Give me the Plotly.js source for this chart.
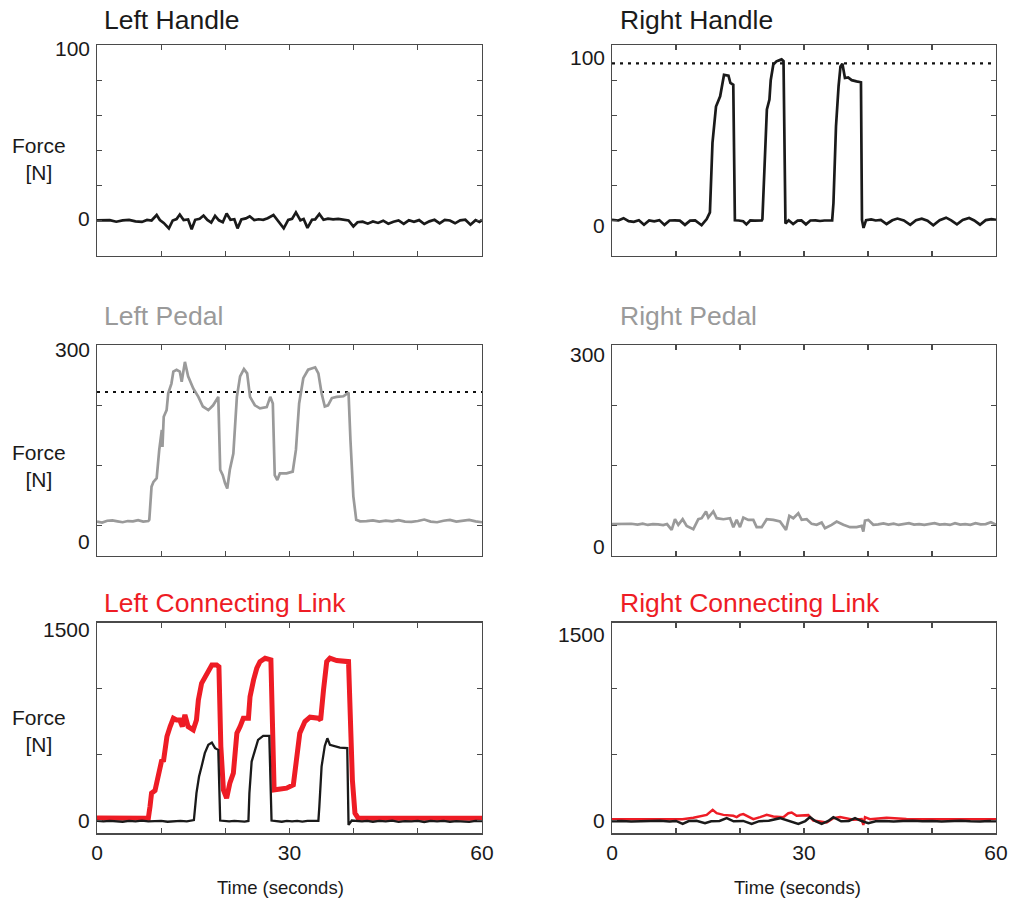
<!DOCTYPE html>
<html>
<head>
<meta charset="utf-8">
<script src="https://cdn.plot.ly/plotly-3.0.1.min.js"></script>
<style>
  html, body { margin: 0; padding: 0; background: #ffffff; }
  #chart { width: 1014px; height: 899px; }
</style>
</head>
<body>
<div id="chart"></div>
<script>
// ---- Force recordings (time in seconds, force in newtons) ----

// Left handle
const leftHandleT = [0,1,2,3,4,5,6,7,7.8,8.5,9.3,9.8,10.4,11.2,11.8,12.4,12.9,13.5,14.2,14.75,15.3,16.0,16.6,17.2,17.8,18.4,19.0,19.6,20.2,20.8,21.4,21.9,22.5,23.2,23.8,24.5,25.2,25.9,26.6,27.5,28.2,29.1,29.8,30.4,31.0,31.7,32.2,32.8,33.5,34.0,34.65,35.3,36,36.8,37.6,38.4,39.2,39.95,40.6,41.4,42.2,43,43.8,44.6,45.4,46.2,47,47.8,48.6,49.4,50.2,51,51.8,52.6,53.4,54.2,55,55.8,56.6,57.4,58.2,59,59.6,60];
const leftHandleF = [0.3,0.2,0.4,-0.5,0.3,0.5,-0.3,-0.6,0.5,0.2,3.3,0.5,-1.2,-4.3,0.2,1.0,3.6,0.4,0.8,-4.8,0.6,1.2,3.0,0.5,-1.0,2.8,0.3,-0.8,4.2,0.6,0.9,-4.3,0.8,1.4,2.6,0.4,0.9,0.6,1.5,3.3,0.2,-4.3,0.5,1.1,4.8,0.3,1.0,-4.0,0.6,0.8,3.9,0.6,1.2,0.8,1.1,0.6,0.2,-3.2,-0.8,-0.5,-1.6,-0.4,-1.2,0.1,-1.6,-0.5,0.2,-1.7,0.3,-0.6,0.4,-1.8,-0.3,0.6,-1.5,0.5,0.2,-1.4,0.3,0.6,-2.2,0.4,-0.6,0.5];

// Right handle
const rightHandleT = [0,1,1.8,2.6,3.4,4.2,5,5.8,6.6,7.4,8.2,9,9.8,10.6,11.4,12.2,13,14.0,14.8,15.3,15.7,16.25,16.9,17.5,18.2,18.5,18.95,19.2,19.8,20.5,21,21.6,22.3,23,23.4,23.5,23.9,24.2,24.6,24.8,25.2,25.7,26.2,26.5,26.8,27.1,27.6,28.3,29,29.6,30.3,31,31.8,32.5,33.2,34.0,34.4,34.6,35.0,35.4,35.7,36.0,36.4,36.9,37.45,38.2,38.9,39.06,39.3,39.7,40.5,41.2,42,42.9,43.8,44.6,45.6,46.6,47.5,48.4,49.3,50.2,51.2,52.2,53.0,53.9,54.8,55.8,56.6,57.5,58.4,59.3,60];
const rightHandleF = [0.5,0.2,1.5,-0.2,-0.6,0.3,-2.2,0.2,-0.3,0.4,-2.3,0.2,0.3,0.1,-2.3,0.1,0.3,-2.5,1.0,4.8,44.4,65,70.8,83,82.5,78.4,77.4,0.3,0.2,-0.2,-2.0,0.2,0.1,0.4,0.2,1,40.6,63.3,69,80,88.8,90.7,91.4,91.8,90.8,-1.5,0.3,-1.8,0.1,0.2,-2.0,0.2,0.3,-0.1,0.2,0.1,0.3,10,53.8,76.5,87.8,89.3,81.2,81.5,80,79.3,78.8,0.5,-4.0,0.4,0.8,0.2,0.5,-1.8,0.3,1.3,0.2,-2.3,0.4,1.2,0.1,-2.5,0.4,1.8,0.3,-2.0,0.5,1.6,0.2,-2.2,0.4,1.0,0.6];
const rightHandleLimit = 89.5;

// Left pedal
const leftPedalT = [0,0.8,1.6,2.4,3.2,4,4.8,5.6,6.4,7.2,8.0,8.15,8.5,8.8,9.3,9.7,10.1,10.2,10.4,10.85,11.1,11.6,11.9,12.4,12.9,13.2,13.7,14.2,15.0,15.8,16.5,17.35,18.1,18.9,19.2,19.6,19.95,20.3,20.7,21.25,21.8,22.3,22.9,23.4,23.85,24.6,25.4,26.45,27.0,27.4,27.7,28.1,28.5,29.55,30.5,31.0,31.5,32.15,32.9,34.0,34.5,35.0,35.5,36.0,36.6,37.35,38.4,39.2,39.5,39.95,40.4,41,42,43,44,45,46,47,48,49,50,51,52,53,54,55,56,57,58,59,60];
const leftPedalF = [7,5.5,8.5,9,7.5,6,8,7.5,9.5,7,8,10,65,73,79,126,159,131,181,192,220,236,256,259,256,239,272,248,228,214,198,192,200,214,93,84,71,62,93,120,214,248,260,253,214,200,195,197,214,203,84,76,87,87,90,126,203,245,259,263,253,220,198,200,212,214,215,221,142,49,10,7.5,8,9,7,8.5,7.5,9.5,7,6.5,8,10.5,7,6,8.5,10,7,8,10,7.5,6];
const leftPedalLimit = 222;

// Right pedal
const rightPedalT = [0,1,2,3,4,4.8,5.6,6.4,7.2,8,8.6,9.32,9.84,10.36,11.04,11.67,12.71,13.49,14.01,14.69,15.05,15.83,16.35,17.4,18.44,18.96,19.48,20.0,20.52,21.3,22.08,22.6,23.39,24.17,25.21,26.25,27.19,27.71,28.33,29.11,29.64,30.42,31.2,31.98,32.76,33.28,34.32,35.1,36.15,37.19,38.23,39.01,39.27,39.53,40.05,40.83,41.6,42.4,43.2,44,44.8,45.6,46.4,47.2,48,48.8,49.6,50.4,51.2,52,52.8,53.6,54.4,55.2,56,56.8,57.6,58.4,59.2,60];
const rightPedalF = [3,3.3,2.5,3.5,2,3.5,1.5,3,2.5,1.2,3,-6.6,11,1.7,11,0,-5.5,11,12.7,23.8,13.8,23.8,12.7,11,12.7,-2.2,9.9,-2.2,13.8,9.9,9.9,-2.2,-2.2,11,9.9,7.2,-6.6,16.6,12.7,21,9.9,11,3.3,1.7,5.5,-3.9,1.7,7.2,1.7,-2.2,-2.2,0,-9.4,8.8,9.9,1.7,2.5,4,2,3.5,1.5,3,4.5,2,3,1.5,3.5,4.5,2,3,1.5,4.5,2,3,1.8,4.5,2.5,3,6,2];

// Left connecting link: link force and handle-side reaction
const leftLinkT = [0,2,4,6,8.0,8.26,8.5,9.04,9.4,9.8,10.1,10.35,10.9,11.4,11.9,12.4,12.9,13.3,13.7,14.2,15.0,15.5,15.8,16.3,17.1,17.9,18.65,19.0,19.3,19.7,20.2,20.7,21.25,21.8,22.3,22.8,23.6,23.85,24.4,24.9,25.4,26.2,27.1,27.4,27.6,28.3,29.55,30.6,31.1,31.6,32.4,33.2,34.5,34.85,35.3,35.8,36.3,37.35,39.2,39.4,39.8,40.2,40.7,45,50,55,60];
const leftLinkF = [16,15,14,16,15,103,205,225,306,407,458,445,635,711,774,761,761,711,800,711,686,761,913,1040,1116,1179,1179,1166,559,230,167,281,357,660,711,774,774,938,1065,1154,1204,1230,1217,761,230,235,243,268,509,660,749,782,774,761,989,1204,1230,1212,1204,812,306,53,15,14,16,15,14];
const leftLinkRefT = [0,1,2,3,4,5,6,7,8,9,10,11,12,13,14,15.1,15.5,15.9,16.3,16.8,17.35,17.9,18.4,18.9,19.2,19.8,20.6,21.4,22.2,23,23.6,23.75,24.1,24.6,25.1,25.9,26.85,27.2,28,28.8,29.6,30.4,31.2,32,32.8,33.6,34.5,34.65,35.0,35.5,35.9,36.3,36.8,37.85,39.0,39.2,39.7,40.5,41.3,42.1,43,44,45,46,47,48,49,50,51,52,53,54,55,56,57,58,59,60];
const leftLinkRefF = [-6,-9,-5,-8,-12,-6,-9,-4,-10,-8,-5,-12,-7,-6,-10,0,205,331,407,509,572,589,547,534,-3,-6,-10,-5,-8,-11,-6,205,445,534,610,640,640,-3,-8,-12,-5,-9,-6,-11,-5,-8,-6,103,407,564,622,572,564,551,547,-36,-3,-7,-10,-5,-12,-6,-9,-4,-13,-7,-9,-5,-14,-6,-10,-5,-12,-7,-8,-13,-6,-8];

// Right connecting link: link force and handle-side reaction
const rightLinkT = [0,3,6,9,11,12.71,13.75,14.79,15.73,16.35,17.4,18.96,19.48,20.0,20.52,21.56,22.08,23.13,24.17,25.21,26.77,27.55,28.07,28.85,30.68,30.94,31.46,33.54,34.58,35.63,37.71,39.01,39.27,39.53,40.31,42.9,46,50,54,57,60];
const rightLinkF = [7,8,7,8,7.6,17.5,27.6,40,78,53,40,32.6,22.8,40,45.5,22.8,7.6,22.8,40,27.6,22.8,53,58,32.6,38,22.8,-3,-18,15,22.8,2.5,7.6,-36,22.8,7.6,17.5,8,7,8,7,7.6];
const rightLinkRefT = [0,1.5,3,4.5,6,7.5,9,10,11.04,12,13.2,14.53,15.5,16.8,17.92,19,20.5,21.82,23,24.5,26.25,27.5,29.11,30.2,30.94,31.8,32.76,33.8,34.58,35.8,37,37.97,39,40.05,41.2,42.5,44,45.5,47,48.5,50,51.5,53,54.5,56,57.5,59,60];
const rightLinkRefF = [-8,-6,-10,-7,-9,-5,-10,-6,-28,-7,-5,-23,-8,-6,15,-9,-6,-28,-8,-5,15,-6,-28,-7,22.8,-8,-28,-6,22.8,-9,-6,15,-7,-23,-8,-6,-10,-7,-5,-9,-6,-10,-7,-5,-9,-11,-6,-8];

// ---- Axis scales and labels ----
const timeRange = [0, 60];
const timeTicks = [0, 10, 20, 30, 40, 50, 60];
const timeTickText = ['0', '', '', '30', '', '', '60'];
const handleRange = [-20, 100];
const handleTicks = [0, 20, 40, 60, 80, 100];
const handleLabels = [0, 100];
const pedalRange = [-50, 300];
const pedalTicks = [0, 100, 200, 300];
const pedalLabels = [0, 300];
const linkRange = [-100, 1500];
const linkTicks = [0, 500, 1000, 1500];
const linkLabels = [0, 1500];

const FONT = 'Liberation Sans, Arial, Helvetica, sans-serif';
const INK = '#1a1a1a';
const GREY = '#9a9a9a';
const RED = '#ee1c25';
const FRAME = '#4a4a4a';

const W = 1014, H = 899;
const px = v => v / W;
const py = v => 1 - v / H;

// plot boxes in pixels: [left, right] and [top, bottom]
const cols = [[97, 482], [612, 996]];
const rows = [[45, 256], [345, 556], [622.7, 833.3]];

function line(x, y, color, width, axis, dash) {
  return {
    x: x, y: y, type: 'scatter', mode: 'lines',
    line: { color: color, width: width, dash: dash || 'solid', shape: 'linear' },
    xaxis: 'x' + axis, yaxis: 'y' + axis,
    hoverinfo: 'skip', showlegend: false
  };
}

const traces = [
  line(leftHandleT, leftHandleF, INK, 2.7, ''),
  line([0, 60], [rightHandleLimit, rightHandleLimit], '#111111', 2.2, '2', '3px,5px'),
  line(rightHandleT, rightHandleF, INK, 2.7, '2'),
  line([0, 60], [leftPedalLimit, leftPedalLimit], '#111111', 2.2, '3', '3px,5px'),
  line(leftPedalT, leftPedalF, GREY, 2.7, '3'),
  line(rightPedalT, rightPedalF, GREY, 2.7, '4'),
  line(leftLinkT, leftLinkF, RED, 5, '5'),
  line(leftLinkRefT, leftLinkRefF, INK, 2.3, '5'),
  line(rightLinkT, rightLinkF, RED, 2.5, '6'),
  line(rightLinkRefT, rightLinkRefF, INK, 2.5, '6')
];

function xAxis(col, anchor, showLabels) {
  return {
    domain: [px(cols[col][0]), px(cols[col][1])],
    anchor: anchor,
    range: timeRange,
    tickmode: 'array', tickvals: timeTicks,
    ticktext: showLabels ? timeTickText : timeTicks.map(() => ''),
    ticks: 'inside', ticklen: 5, tickwidth: 1.2, tickcolor: FRAME,
    showline: true, linecolor: FRAME, linewidth: 1.4, mirror: 'ticks',
    showgrid: false, zeroline: false, fixedrange: true,
    tickfont: { family: FONT, size: 21, color: INK }
  };
}

function yAxis(row, anchor, range, ticks) {
  return {
    domain: [py(rows[row][1]), py(rows[row][0])],
    anchor: anchor,
    range: range,
    tickmode: 'array', tickvals: ticks, showticklabels: false,
    ticks: 'inside', ticklen: 5, tickwidth: 1.2, tickcolor: FRAME,
    showline: true, linecolor: FRAME, linewidth: 1.4, mirror: 'ticks',
    showgrid: false, zeroline: false, fixedrange: true
  };
}

// value labels at the left of each force axis; each sits a few pixels below its tick
function valueLabels(axis, values, shifts) {
  return values.map((v, i) => ({
    text: String(v), xref: 'x' + axis + ' domain', yref: 'y' + axis,
    x: 0, y: v, xanchor: 'right', yanchor: 'middle', xshift: -5, yshift: shifts[i],
    showarrow: false, font: { family: FONT, size: 21, color: INK }
  }));
}

function heading(text, x, y, color) {
  return {
    text: text, xref: 'paper', yref: 'paper', x: px(x), y: py(y),
    xanchor: 'left', yanchor: 'middle', showarrow: false,
    font: { family: FONT, size: 26.5, color: color }
  };
}

function forceLabel(y) {
  return {
    text: 'Force<br>[N]', xref: 'paper', yref: 'paper', x: px(39), y: py(y),
    xanchor: 'center', yanchor: 'middle', showarrow: false, align: 'center',
    font: { family: FONT, size: 21, color: INK }
  };
}

function timeLabel(x) {
  return {
    text: 'Time (seconds)', xref: 'paper', yref: 'paper', x: px(x), y: py(887),
    xanchor: 'center', yanchor: 'middle', showarrow: false,
    font: { family: FONT, size: 18.5, color: INK }
  };
}

const layout = {
  width: W, height: H, autosize: false,
  margin: { l: 0, r: 0, t: 0, b: 0 },
  paper_bgcolor: '#ffffff', plot_bgcolor: '#ffffff',
  showlegend: false,
  xaxis:  xAxis(0, 'y', false),
  yaxis:  yAxis(0, 'x', handleRange, handleTicks),
  xaxis2: xAxis(1, 'y2', false),
  yaxis2: yAxis(0, 'x2', handleRange, handleTicks),
  xaxis3: xAxis(0, 'y3', false),
  yaxis3: yAxis(1, 'x3', pedalRange, pedalTicks),
  xaxis4: xAxis(1, 'y4', false),
  yaxis4: yAxis(1, 'x4', pedalRange, pedalTicks),
  xaxis5: xAxis(0, 'y5', true),
  yaxis5: yAxis(2, 'x5', linkRange, linkTicks),
  xaxis6: xAxis(1, 'y6', true),
  yaxis6: yAxis(2, 'x6', linkRange, linkTicks),
  annotations: [
    heading('Left Handle', 102, 20, INK),
    heading('Right Handle', 618, 20, INK),
    heading('Left Pedal', 102, 316, GREY),
    heading('Right Pedal', 618, 316, GREY),
    heading('Left Connecting Link', 102, 603, RED),
    heading('Right Connecting Link', 618, 603, RED),
    forceLabel(159),
    forceLabel(466),
    forceLabel(731),
    timeLabel(280),
    timeLabel(797)
  ]
    .concat(valueLabels('', handleLabels, [2, -4]))
    .concat(valueLabels('2', handleLabels, [-5, -13]))
    .concat(valueLabels('3', pedalLabels, [-16, -4]))
    .concat(valueLabels('4', pedalLabels, [-21, -9]))
    .concat(valueLabels('5', linkLabels, [0, -7]))
    .concat(valueLabels('6', linkLabels, [0, -12]))
};

Plotly.newPlot('chart', traces, layout, { staticPlot: true, displayModeBar: false });
</script>
</body>
</html>
